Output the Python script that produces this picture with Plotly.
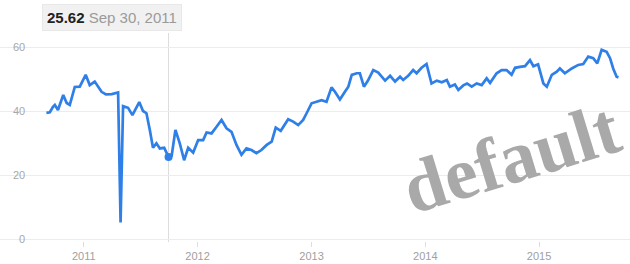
import plotly.graph_objects as go

dates = [
    "2010-09-03", "2010-09-14", "2010-09-24", "2010-09-30", "2010-10-10", "2010-10-27",
    "2010-11-07", "2010-11-17", "2010-12-03", "2010-12-19", "2011-01-07", "2011-01-20",
    "2011-02-05", "2011-02-27", "2011-03-13", "2011-04-01", "2011-04-21", "2011-04-29",
    "2011-05-07", "2011-05-23", "2011-06-06", "2011-06-28", "2011-07-10", "2011-07-21",
    "2011-08-01", "2011-08-11", "2011-08-22", "2011-09-02", "2011-09-16", "2011-09-30",
    "2011-10-10", "2011-10-22", "2011-11-05", "2011-11-19", "2011-12-02", "2011-12-18",
    "2012-01-03", "2012-01-19", "2012-01-30", "2012-02-15", "2012-03-02", "2012-03-18",
    "2012-04-03", "2012-04-19", "2012-05-05", "2012-05-21", "2012-06-06", "2012-06-22",
    "2012-07-08", "2012-07-24", "2012-08-10", "2012-08-26", "2012-09-08", "2012-09-24",
    "2012-10-18", "2012-11-03", "2012-11-19", "2012-12-05", "2012-12-16", "2013-01-01",
    "2013-01-17", "2013-02-02", "2013-02-18", "2013-03-06", "2013-03-17", "2013-04-02",
    "2013-04-18", "2013-04-29", "2013-05-10", "2013-05-26", "2013-06-05", "2013-06-18",
    "2013-07-01", "2013-07-18", "2013-08-03", "2013-08-25", "2013-09-10", "2013-09-26",
    "2013-10-12", "2013-10-22", "2013-11-07", "2013-11-23", "2013-12-04", "2013-12-20",
    "2014-01-05", "2014-01-21", "2014-02-07", "2014-02-23", "2014-03-11", "2014-03-21",
    "2014-04-06", "2014-04-17", "2014-05-03", "2014-05-15", "2014-05-30", "2014-06-15",
    "2014-07-01", "2014-07-17", "2014-07-28", "2014-08-18", "2014-09-03", "2014-09-19",
    "2014-10-05", "2014-10-16", "2014-11-01", "2014-11-17", "2014-12-03", "2014-12-14",
    "2014-12-29", "2015-01-15", "2015-01-26", "2015-02-11", "2015-02-27", "2015-03-09",
    "2015-03-25", "2015-04-16", "2015-05-07", "2015-05-23", "2015-06-08", "2015-06-24",
    "2015-07-07", "2015-07-21", "2015-08-06", "2015-08-17", "2015-08-27", "2015-09-07",
    "2015-09-13",
]
values = [
    39.4, 39.6, 41.3, 41.9, 40.3, 45.0,
    42.5, 41.9, 47.5, 47.6, 51.3, 48.1,
    49.2, 46.0, 45.2, 45.3, 45.8, 5.2,
    41.5, 41.0, 38.7, 42.8, 40.0, 39.3,
    34.0, 28.5, 29.9, 28.3, 28.5, 25.62,
    26.0, 34.1, 29.9, 24.6, 28.5, 27.0,
    30.9, 30.9, 33.3, 33.0, 35.1, 37.2,
    34.6, 33.5, 29.4, 26.3, 28.3, 27.8,
    26.8, 27.8, 29.4, 30.4, 34.8, 33.8,
    37.4, 36.7, 35.6, 37.2, 39.3, 42.4,
    42.9, 43.4, 42.9, 47.4, 46.0, 43.6,
    46.0, 47.6, 51.3, 51.8, 51.8, 47.6,
    49.5, 52.8, 52.0, 49.5, 51.0, 49.2,
    50.7, 49.7, 51.0, 52.8, 51.8, 53.5,
    54.7, 48.6, 49.5, 49.0, 49.7, 47.6,
    48.3, 46.6, 48.0, 48.6, 47.6, 48.6,
    48.1, 50.2, 48.8, 51.8, 52.8, 52.8,
    51.3, 53.5, 53.8, 54.0, 55.9, 54.0,
    54.6, 48.6, 47.6, 51.3, 52.3, 53.3,
    51.8, 53.3, 54.4, 54.7, 57.0, 56.5,
    54.9, 59.1, 58.5, 56.5, 53.3, 50.7,
    50.5,
]

hover_date = "2011-09-30"
hover_value = 25.62
tooltip_value = "25.62"
tooltip_date = "Sep 30, 2011"

x_ticks = ["2011-01-01", "2012-01-01", "2013-01-01", "2014-01-01", "2015-01-01"]
x_ticktext = ["2011", "2012", "2013", "2014", "2015"]
y_ticks = [0, 20, 40, 60]
y_ticktext = ["\u00a0\u00a00", "20", "40", "60"]

W, H = 630, 264
PLOT_B = 241          # pixel y of plot bottom
PX_PER_UNIT = 3.2
Y0_PX = 239           # pixel y of value 0
y_min = -(PLOT_B - Y0_PX) / PX_PER_UNIT
y_max = Y0_PX / PX_PER_UNIT

BLUE = "#2f7fe8"

fig = go.Figure()
fig.add_trace(go.Scatter(
    x=dates, y=values, mode="lines",
    line=dict(color=BLUE, width=2.7, shape="linear"),
    hoverinfo="skip", showlegend=False,
))
fig.add_trace(go.Scatter(
    x=[hover_date], y=[hover_value], mode="markers",
    marker=dict(color=BLUE, size=8),
    hoverinfo="skip", showlegend=False,
))

def py_to_paper(py):
    return 1 - py / PLOT_B

# hover guide line
fig.add_shape(type="line", xref="x", yref="paper",
              x0=hover_date, x1=hover_date, y0=py_to_paper(242), y1=py_to_paper(33),
              line=dict(color="#dcdcdc", width=1), layer="below")

# tooltip
fig.add_annotation(
    xref="paper", yref="paper", x=111.5 / W, y=py_to_paper(17.5),
    text=f"<b>{tooltip_value}</b> <span style='color:#9a9a9a'>{tooltip_date}</span>",
    showarrow=False, font=dict(family="Liberation Sans, Arial", size=15, color="#222"),
    bgcolor="#f1f1f1", bordercolor="#e8e8e8", borderwidth=1, borderpad=4,
    xanchor="center", yanchor="middle",
)

# watermark
fig.add_annotation(
    xref="paper", yref="paper", x=511 / W, y=py_to_paper(158),
    text="<b>default</b>", showarrow=False, textangle=-17,
    font=dict(family="Liberation Serif, Times New Roman, serif", size=74, color="#a9a9a9"),
    xanchor="center", yanchor="middle",
)

x_left = "2010-04-07"
x_right = "2015-10-20"

fig.update_layout(
    width=W, height=H,
    margin=dict(l=0, r=0, t=0, b=H - PLOT_B),
    paper_bgcolor="white", plot_bgcolor="white",
    font=dict(family="Liberation Sans, Arial", size=11, color="#a0a0a0"),
    xaxis=dict(
        type="date", range=[x_left, x_right],
        tickvals=x_ticks, ticktext=x_ticktext,
        showgrid=False, zeroline=False, showline=False,
        ticks="outside", ticklen=5, tickcolor="#dddddd", tickwidth=1,
        tickfont=dict(size=11, color="#a0a0a0"),
    ),
    yaxis=dict(
        range=[y_min, y_max], tickvals=y_ticks, ticktext=y_ticktext,
        showgrid=True, gridcolor="#ececec", gridwidth=1,
        zeroline=False, showline=False,
        ticks="", ticklabelposition="inside", ticklabelstandoff=10,
        ticklabeloverflow="allow",
        tickfont=dict(size=11, color="#a8a8a8"),
    ),
)

fig.write_html(
    "out.html",
    config={"displayModeBar": False},
    post_script="document.body.style.margin='0';document.body.style.overflow='hidden';",
)
